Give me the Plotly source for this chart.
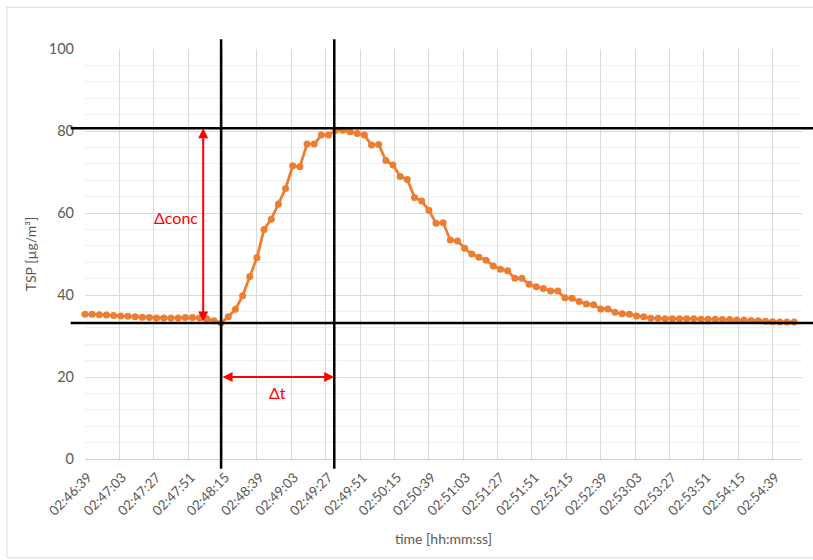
import plotly.graph_objects as go

# ---- data ----
sample_step_s = 5  # logger interval (s)
tsp_values = [
    35.3, 35.3, 35.2, 35.1, 35.0, 34.9, 34.8, 34.7, 34.6, 34.5,
    34.4, 34.4, 34.4, 34.4, 34.5, 34.5, 34.4, 34.2, 33.7, 33.2,
    34.7, 36.5, 39.8, 44.5, 49.1, 56.0, 58.5, 62.2, 66.0, 71.5,
    71.3, 76.8, 76.8, 79.0, 79.0, 80.2, 80.2, 79.8, 79.4, 79.0,
    76.6, 76.7, 72.8, 71.7, 68.9, 68.2, 63.8, 62.9, 60.7, 57.5,
    57.6, 53.4, 53.2, 51.4, 50.0, 49.2, 48.5, 47.1, 46.3, 45.9,
    44.1, 44.1, 42.6, 42.0, 41.6, 41.0, 41.0, 39.3, 39.2, 38.4,
    37.8, 37.6, 36.6, 36.6, 35.8, 35.4, 35.3, 34.9, 34.7, 34.3,
    34.3, 34.2, 34.2, 34.2, 34.2, 34.2, 34.1, 34.1, 34.1, 34.0,
    34.0, 33.9, 33.9, 33.8, 33.7, 33.6, 33.5, 33.4, 33.4, 33.4,
]
tick_labels = [
    "02:46:39", "02:47:03", "02:47:27", "02:47:51", "02:48:15", "02:48:39",
    "02:49:03", "02:49:27", "02:49:51", "02:50:15", "02:50:39", "02:51:03",
    "02:51:27", "02:51:51", "02:52:15", "02:52:39", "02:53:03", "02:53:27",
    "02:53:51", "02:54:15", "02:54:39",
]
tick_step_s = 24
# markers (s from start / µg/m³)
t_start = 95
t_peak = 174
conc_base = 33.2
conc_peak = 80.7
t_conc_arrow = 82.5
conc_dt_arrow = 20

time_s = [i * sample_step_s for i in range(len(tsp_values))]
tick_vals = [i * tick_step_s for i in range(len(tick_labels))]

ORANGE = "#ED7D31"
GREY = "#595959"
FONT = "Lato"

fig = go.Figure()
fig.add_trace(go.Scatter(
    x=time_s, y=tsp_values, mode="lines+markers",
    line=dict(color=ORANGE, width=2.75),
    marker=dict(color=ORANGE, size=7),
    cliponaxis=False, showlegend=False,
))

shapes = []
# vertical black lines
for t in (t_start, t_peak):
    shapes.append(dict(type="line", xref="x", yref="paper", x0=t, x1=t,
                       y0=-0.024, y1=1.024, line=dict(color="black", width=2.5)))
# horizontal black lines
for c in (conc_base, conc_peak):
    shapes.append(dict(type="line", xref="paper", yref="y", x0=-0.02, x1=1.02,
                       y0=c, y1=c, line=dict(color="black", width=2.5)))
# chart border
shapes.append(dict(type="rect", xref="paper", yref="paper",
                   x0=-0.109, x1=1.03, y0=-0.241, y1=1.102,
                   line=dict(color="#d9d9d9", width=1), layer="below"))

annotations = [
    dict(x=t_conc_arrow, y=conc_peak, ax=t_conc_arrow, ay=conc_base,
         xref="x", yref="y", axref="x", ayref="y", text="",
         showarrow=True, arrowhead=2, startarrowhead=2, arrowside="end+start",
         arrowsize=1, arrowwidth=2, arrowcolor="red"),
    dict(x=t_peak, y=conc_dt_arrow, ax=t_start, ay=conc_dt_arrow,
         xref="x", yref="y", axref="x", ayref="y", text="",
         showarrow=True, arrowhead=2, startarrowhead=2, arrowside="end+start",
         arrowsize=1, arrowwidth=2, arrowcolor="red"),
    dict(x=t_conc_arrow - 2.5, y=58.8, xref="x", yref="y", text="Δconc",
         showarrow=False, xanchor="right",
         font=dict(color="red", size=16, family=FONT)),
    dict(x=(t_start + t_peak) / 2, y=16.3, xref="x", yref="y", text="Δt",
         showarrow=False, font=dict(color="red", size=16, family=FONT)),
]

fig.update_layout(
    width=813, height=560,
    margin=dict(l=85, r=11, t=49, b=101),
    paper_bgcolor="white", plot_bgcolor="white",
    font=dict(family=FONT, color=GREY, size=13),
    shapes=shapes, annotations=annotations,
    xaxis=dict(
        range=[0, 500.5], tickmode="array", tickvals=tick_vals, ticktext=tick_labels,
        tickangle=-45, showgrid=True, gridcolor="#d9d9d9", gridwidth=1,
        zeroline=False, showline=False, ticks="",
        ticklabelstandoff=7, ticklabelshift=3,
        title=dict(text="time [hh:mm:ss]", font=dict(size=14, color=GREY), standoff=16),
        tickfont=dict(size=13.5, color=GREY),
    ),
    yaxis=dict(
        range=[0, 100], dtick=20, showgrid=True, gridcolor="#d9d9d9", gridwidth=1,
        zeroline=True, zerolinecolor="#d0d0d0", zerolinewidth=1, showline=False, ticks="",
        ticklabelstandoff=10,
        minor=dict(dtick=4, showgrid=True, gridcolor="#efefef", gridwidth=1),
        title=dict(text="TSP [µg/m³]", font=dict(size=14, color=GREY), standoff=8),
        tickfont=dict(size=14.5, color=GREY),
    ),
)

fig.write_html("out.html", post_script="document.body.style.margin='0';",
               config={"displayModeBar": False})
